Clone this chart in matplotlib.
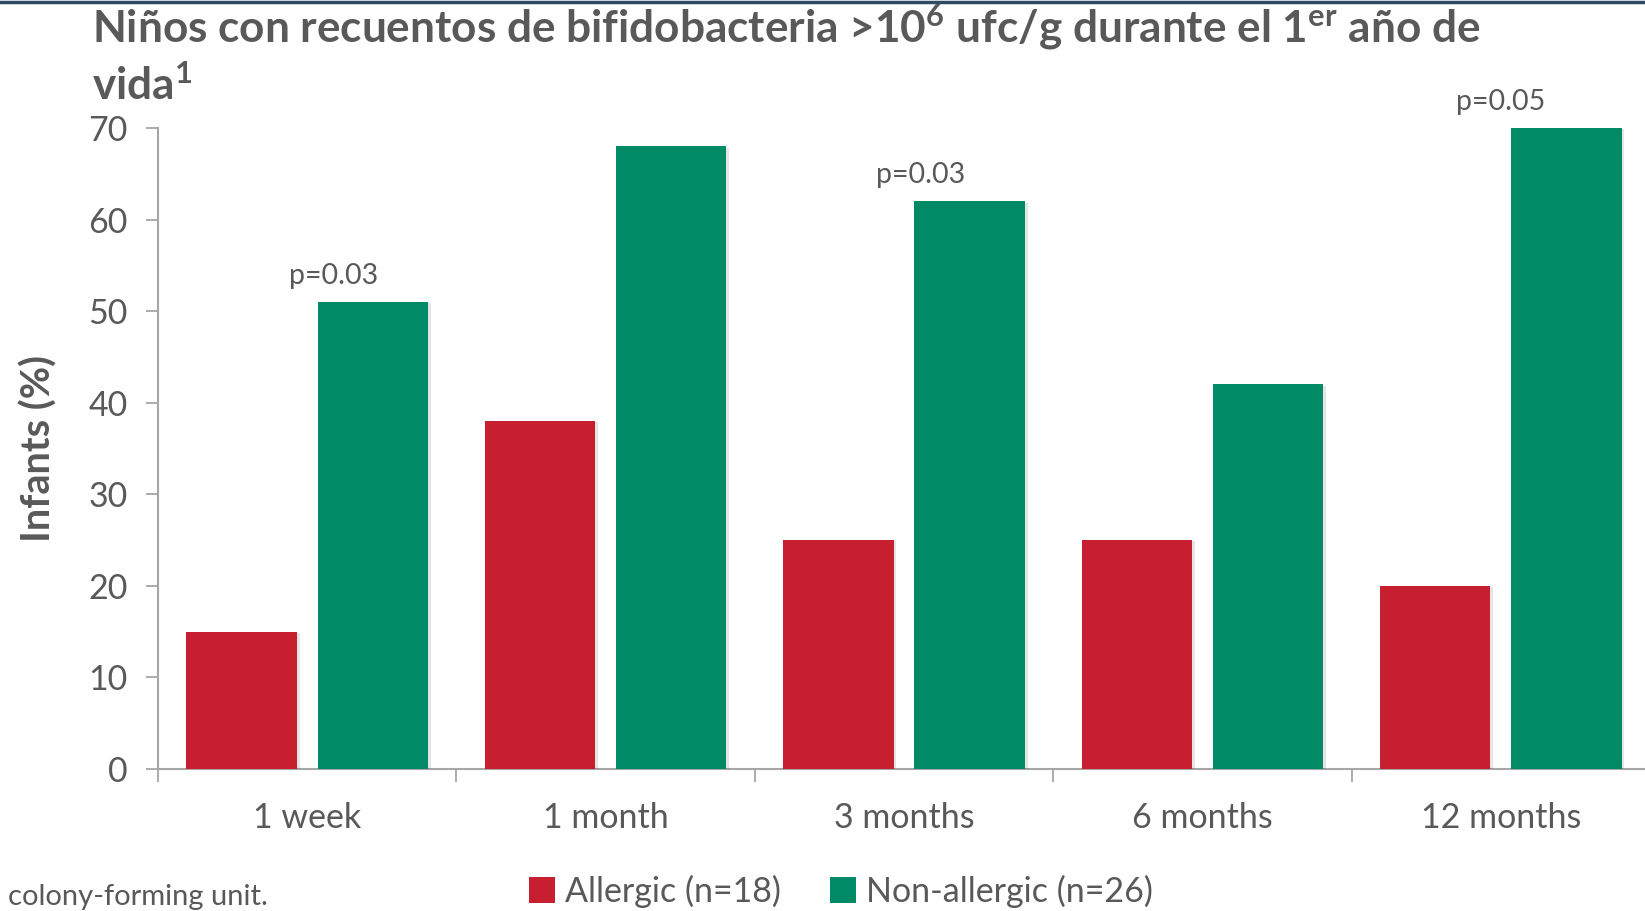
import matplotlib
matplotlib.use("Agg")
import matplotlib.pyplot as plt
import matplotlib.patheffects as pe
from matplotlib.patches import Patch
from matplotlib.lines import Line2D
import numpy as np

categories = ["1 week", "1 month", "3 months", "6 months", "12 months"]
allergic = [15, 38, 25, 25, 20]
non_allergic = [51, 68, 62, 42, 70]
pvalues = {0: "p=0.03", 2: "p=0.03", 4: "p=0.05"}
series_labels = ["Allergic (n=18)", "Non-allergic (n=26)"]
title_line1 = r"Niños con recuentos de bifidobacteria >10$^{\mathbf{6}}$ ufc/g durante el 1$^{\mathbf{er}}$ año de"
title_line2 = r"vida$^{\mathbf{1}}$"
ylabel = "Infants (%)"
footnote = "colony-forming unit."

FONT = "Lato"
plt.rcParams["font.family"] = [FONT, "DejaVu Sans"]
plt.rcParams["mathtext.fontset"] = "custom"
plt.rcParams["mathtext.rm"] = FONT
plt.rcParams["mathtext.bf"] = FONT + ":bold"
plt.rcParams["mathtext.it"] = FONT + ":italic"

TXT = "#595959"
RED = "#C81F30"
GREEN = "#008A66"
AX = "#A6A6A6"

W, H = 1645, 911
fig = plt.figure(figsize=(W / 100, H / 100), dpi=100)
left, right, bottom, top = 158, 1650, 769, 128
ax = fig.add_axes([left / W, 1 - bottom / H, (right - left) / W, (bottom - top) / H])

x = np.arange(len(categories))
bw = 0.37
off = 0.22
shadow = [pe.SimplePatchShadow(offset=(2, -1), alpha=0.10, shadow_rgbFace="#000000"), pe.Normal()]
b1 = ax.bar(x - off, allergic, bw, color=RED, zorder=3)
b2 = ax.bar(x + off, non_allergic, bw, color=GREEN, zorder=3)
for b in list(b1) + list(b2):
    b.set_path_effects(shadow)

ax.set_xlim(-0.5, len(categories) - 0.5)
ax.set_ylim(0, 70)
ax.set_yticks(np.arange(0, 71, 10))
ax.set_xticks(np.arange(-0.5, len(categories), 1.0))
ax.set_xticklabels([])
ax.set_xticks(x, minor=True)
ax.set_xticklabels(categories, minor=True)

for s in ["top", "right"]:
    ax.spines[s].set_visible(False)
for s in ["left", "bottom"]:
    ax.spines[s].set_color(AX)
    ax.spines[s].set_linewidth(1.5)
ax.tick_params(axis="y", which="major", direction="out", length=9, width=1.3, color=AX,
               labelsize=24.5, labelcolor=TXT, pad=13)
ax.tick_params(axis="x", which="major", direction="out", length=9, width=1.3, color=AX)
ax.tick_params(axis="x", which="minor", length=0, labelsize=24.5, labelcolor=TXT, pad=24)

ax.set_ylabel(ylabel, fontsize=28.5, fontweight="bold", color=TXT, labelpad=22)

p_dx = {0: 0.09, 2: 0.055, 4: 0.0}
for i, txt in pvalues.items():
    ax.text(i + p_dx[i], non_allergic[i] + 1.4, txt, ha="center", va="bottom",
            fontsize=20.5, color=TXT)

fig.text(92 / W, 1 - 42 / H, title_line1, fontsize=31.8, fontweight="bold", color=TXT,
         ha="left", va="baseline")
fig.text(92 / W, 1 - 100 / H, title_line2, fontsize=31.8, fontweight="bold", color=TXT,
         ha="left", va="baseline")

fig.add_artist(Line2D([0, 1], [1 - 1.5 / H, 1 - 1.5 / H], transform=fig.transFigure,
                      color="#2E4A63", linewidth=2.5))

fig.text(8 / W, 1 - 897 / H, footnote, fontsize=21, color=TXT, ha="left", va="center")

handles = [Patch(facecolor=RED), Patch(facecolor=GREEN)]
leg = fig.legend(handles, series_labels, loc="center", bbox_to_anchor=(841 / W, 1 - 891 / H),
                 ncol=2, frameon=False, fontsize=24.5, handlelength=0.75, handleheight=0.8,
                 handletextpad=0.3, columnspacing=1.45, labelcolor=TXT)

fig.savefig("out.png", dpi=100)
